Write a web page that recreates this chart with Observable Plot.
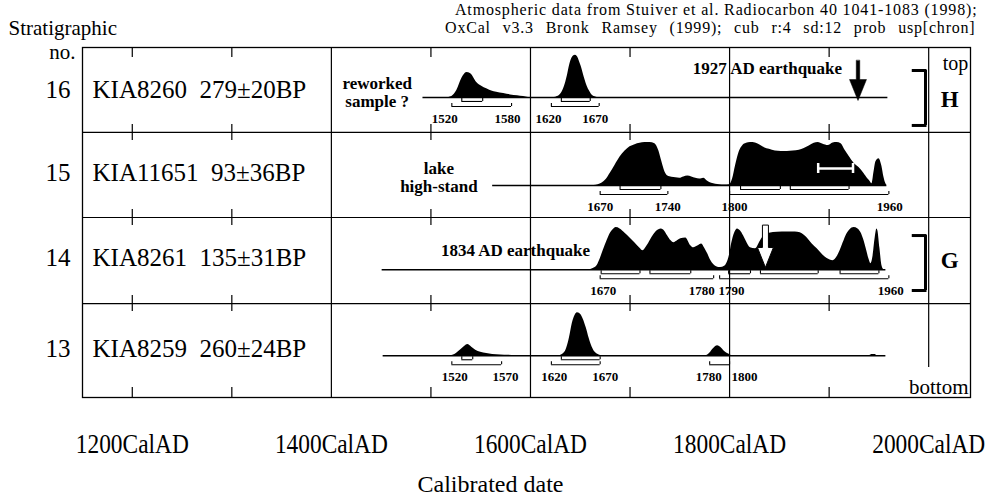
<!DOCTYPE html>
<html><head><meta charset="utf-8">
<script src="https://cdn.jsdelivr.net/npm/d3@7"></script>
<script src="https://cdn.jsdelivr.net/npm/@observablehq/plot@0.6"></script>
<style>body{margin:0;background:#fff;} svg text{font-family:"Liberation Serif","Times New Roman",serif;}</style>
</head><body><div id="chart"></div>
<script>
// ---------- data ----------
const rowNos   = ["16", "15", "14", "13"];
const labIds   = ["KIA8260", "KIA11651", "KIA8261", "KIA8259"];
const labAges  = ["279±20BP", "93±36BP", "135±31BP", "260±24BP"];
const lineStart = [1492, 1562, 1451, 1452];
const lineEnd   = [1959, 1958, 1957, 1957];

// probability densities (relative, max = 1)
const years16 = [1518,1521,1526,1531,1536,1540,1546,1551,1556,1561,1566,1573,1580,1587,1593,1598,
                 1624,1627,1631,1634,1637,1639,1642,1645,1647,1649,1651,1654,1656,1659,1661,1664,1667];
const dens16  = [0,0.02,0.16,0.44,0.58,0.55,0.35,0.26,0.2,0.15,0.12,0.09,0.06,0.04,0.02,0,
                 0,0.02,0.1,0.25,0.5,0.72,0.93,0.98,0.95,0.85,0.72,0.47,0.32,0.16,0.08,0.02,0];
const years15 = [1664,1668,1672,1676,1680,1685,1690,1695,1700,1705,1710,1715,1720,1725,1729,1732,1735,1738,1742,1746,1750,1754,1758,1762,1766,1770,1774,1778,1782,1786,1790,1795,1800,
                 1801,1803,1806,1810,1813,1817,1821,1826,1830,1835,1840,1846,1852,1858,1864,1870,1875,1880,1885,1889,1894,1899,1904,1908,1912,1916,1920,1925,1930,1935,1939,1941,1943,1945,1947,1950,1953,1955,1957,1958];
const dens15  = [0,0.02,0.06,0.14,0.28,0.47,0.66,0.8,0.9,0.95,0.98,1.0,1.0,0.97,0.8,0.55,0.32,0.22,0.19,0.18,0.17,0.2,0.22,0.2,0.17,0.15,0.17,0.1,0.05,0.03,0.02,0.01,0.02,
                 0.04,0.15,0.46,0.8,0.92,0.98,1.0,0.99,0.95,0.88,0.84,0.8,0.79,0.79,0.8,0.82,0.86,0.92,0.98,1.0,0.96,0.93,0.99,1.0,0.97,0.82,0.68,0.52,0.42,0.28,0.15,0.1,0.04,0.3,0.55,0.62,0.45,0.2,0.04,0];
const years14 = [1658,1663,1667,1670,1673,1677,1680,1683,1686,1690,1695,1700,1705,1710,1713,1717,1720,1724,1728,1731,1734,1738,1741,1744,1748,1751,1756,1761,1764,1768,1772,1775,1778,1781,1784,1788,1791,1795,1797,1800,1802,1805,1808,1811,1814,1817,1821,1826,1831,1835,1840,1848,1858,1866,1871,1875,1878,1883,1888,1893,1898,1904,1908,1911,1914,1918,1921,1925,1929,1932,1935,1937,1940,1942,1944,1946,1948,1949,1951,1953,1955];
const dens14  = [0,0.03,0.1,0.25,0.44,0.68,0.84,0.93,0.98,0.95,0.85,0.74,0.62,0.5,0.44,0.55,0.67,0.82,0.92,0.95,0.92,0.78,0.68,0.63,0.68,0.72,0.74,0.56,0.51,0.55,0.6,0.5,0.37,0.22,0.12,0.06,0.05,0.08,0.14,0.35,0.6,0.85,0.95,0.9,0.79,0.65,0.51,0.49,0.67,0.8,0.85,0.87,0.88,0.88,0.86,0.8,0.74,0.6,0.49,0.36,0.26,0.21,0.3,0.44,0.62,0.84,0.93,0.98,0.95,0.86,0.68,0.51,0.25,0.14,0.3,0.7,0.95,0.9,0.5,0.1,0];
const years13 = [1520,1524,1527,1530,1534,1537,1541,1545,1550,1556,1562,1570,1578,1585,
                 1628,1632,1636,1639,1642,1645,1647,1650,1653,1656,1659,1662,1665,1669,1673,
                 1776,1780,1784,1788,1791,1795,1799,1803,
                 1940,1943,1946,1948];
const dens13  = [0,0.03,0.08,0.14,0.22,0.26,0.2,0.13,0.08,0.05,0.03,0.02,0.01,0,
                 0,0.03,0.15,0.4,0.75,0.95,1.0,0.97,0.85,0.65,0.4,0.2,0.08,0.02,0,
                 0,0.06,0.17,0.23,0.2,0.1,0.04,0,
                 0,0.03,0.03,0];
const densYears = [years16, years15, years14, years13];
const densVals  = [dens16, dens15, dens14, dens13];

// 68.2% (upper) and 95.4% (lower) calibrated ranges
const ranges68 = [[[1531,1552],[1631,1660]],
                  [[1690,1731],[1811,1851],[1861,1920]],
                  [[1671,1710],[1720,1761],[1799,1821],[1831,1889],[1911,1950]],
                  [[1531,1542],[1631,1670]]];
const ranges95 = [[[1521,1581],[1621,1669]],
                  [[1670,1738],[1800,1960]],
                  [[1670,1784],[1790,1960]],
                  [[1521,1571],[1621,1670],[1780,1800]]];
const rangeLabelText = [["1520","1580","1620","1670"],
                        ["1670","1740","1800","1960"],
                        ["1670","1780","1790","1960"],
                        ["1520","1570","1620","1670","1780","1800"]];
const rangeLabelYear = [[1514,1577,1618,1665],
                        [1670,1738,1805,1961],
                        [1673,1772,1802,1962],
                        [1524,1575,1624,1675,1779,1815]];

const axisYears = [1200, 1400, 1600, 1800, 2000];
const gridYears = [1400, 1600, 1800];
const tickYears = [1200, 1300, 1500, 1700, 1900];

const quakeBlack = [{year: 1929, label: "1927 AD earthquake"}];
const quakeWhite = [{year: 1836, label: "1834 AD earthquake"}];
const errorBar = [{from: 1889, to: 1924}];
const phases = ["H", "G"];

const captionLines = ["Atmospheric data from Stuiver et al. Radiocarbon 40 1041-1083 (1998);",
                      "OxCal v3.3 Bronk Ramsey (1999); cub r:4 sd:12 prob usp[chron]"];

// ---------- layout (row positions in y units) ----------
const PX = 87.5;                       // pixels per y unit
const rowBounds = [4, 3.029, 2.057, 1.074, 0];
const rowBase   = [3.429, 2.423, 1.460, 0.477];
const rowTextY  = [3.52, 2.57, 1.60, 0.549];
const amp = 43 / PX;
const phaseTop = [3.737, 1.851], phaseBot = [3.109, 1.223], phaseTextY = [3.409, 1.57];

// ---------- build tables ----------
const areaRows = [];
rowNos.forEach((no, i) => densYears[i].forEach((yr, j) =>
  areaRows.push({row: no, year: yr, base: rowBase[i], top: rowBase[i] + densVals[i][j] * amp})));
const rows = rowNos.map((no, i) => ({no, text: labIds[i] + "\u00a0\u00a0" + labAges[i], y: rowTextY[i],
  base: rowBase[i], start: lineStart[i], end: lineEnd[i]}));
const brackets = [], bracketEnds = [];
rowNos.forEach((no, i) => {
  [[ranges68[i], 4], [ranges95[i], 9]].forEach(([rs, off]) => rs.forEach(([a, b]) => {
    const y = rowBase[i] - off / PX;
    brackets.push({x1: a, x2: b, y});
    bracketEnds.push({x: a, y1: y, y2: y + 3 / PX}, {x: b, y1: y, y2: y + 3 / PX});
  }));
});
const rangeLabels = [];
rowNos.forEach((no, i) => rangeLabelText[i].forEach((t, j) =>
  rangeLabels.push({text: t, x: rangeLabelYear[i][j], y: rowBase[i] - 21.5 / PX})));
const tickSegs = [];
rowBounds.forEach((b, k) => tickYears.forEach(x => {
  if (k === 0) tickSegs.push({x, y1: b - 10 / PX, y2: b});
  else if (k === rowBounds.length - 1) tickSegs.push({x, y1: b, y2: b + 10 / PX});
  else tickSegs.push({x, y1: b - 8 / PX, y2: b + 8 / PX});
}));
const phaseRows = phases.map((p, i) => ({p, top: phaseTop[i], bot: phaseBot[i], ty: phaseTextY[i]}));

// filled arrow shape for Plot.vector
const arrowShape = (shaftW, headW, headL) => ({
  draw(ctx, l) {
    const s = shaftW / 2, h = headW / 2, b = -(l - headL);
    ctx.moveTo(-s, 0); ctx.lineTo(-s, b); ctx.lineTo(-h, b); ctx.lineTo(0, -l);
    ctx.lineTo(h, b); ctx.lineTo(s, b); ctx.lineTo(s, 0); ctx.closePath();
  }
});

const serif = "Liberation Serif";
const T = (data, opts) => Plot.text(data, {fontFamily: serif, lineAnchor: "middle", ...opts});
const chart = Plot.plot({
  width: 998, height: 496,
  marginLeft: 82, marginRight: 28, marginTop: 47, marginBottom: 99,
  x: {domain: [1150, 2042], axis: null},
  y: {domain: [0, 4], axis: null},
  style: {background: "white", color: "black", overflow: "visible"},
  marks: [
    Plot.frame({stroke: "black", strokeWidth: 1.3}),
    Plot.ruleY(rowBounds.slice(1, 4), {stroke: "black", strokeWidth: 1.2}),
    Plot.ruleX(gridYears, {stroke: "black", strokeWidth: 1.2}),
    Plot.ruleX([2000], {y1: 30 / PX, y2: 4, stroke: "black", strokeWidth: 1.2}),
    Plot.ruleX(tickSegs, {x: "x", y1: "y1", y2: "y2", stroke: "black", strokeWidth: 1.2}),
    // baselines
    Plot.ruleY(rows, {x1: "start", x2: "end", y: "base", stroke: "black", strokeWidth: 1.4}),
    // probability distributions
    Plot.areaY(areaRows, {x: "year", y1: "base", y2: "top", z: "row", fill: "black", curve: "monotone-x"}),
    // calibrated ranges
    Plot.ruleY(brackets, {x1: "x1", x2: "x2", y: "y", stroke: "black", strokeWidth: 1.1}),
    Plot.ruleX(bracketEnds, {x: "x", y1: "y1", y2: "y2", stroke: "black", strokeWidth: 1.1}),
    T(rangeLabels, {x: "x", y: "y", text: "text", fontSize: 13, fontWeight: "bold"}),
    // white error bar
    Plot.ruleY(errorBar, {x1: "from", x2: "to", y: 2.617, stroke: "white", strokeWidth: 2.5}),
    Plot.ruleX(errorBar, {x: "from", y1: 2.617 - 5 / PX, y2: 2.617 + 5 / PX, stroke: "white", strokeWidth: 2.5}),
    Plot.ruleX(errorBar, {x: "to", y1: 2.617 - 5 / PX, y2: 2.617 + 5 / PX, stroke: "white", strokeWidth: 2.5}),
    // arrows
    Plot.vector(quakeBlack, {x: "year", y: 3.851, length: 40, rotate: 180, anchor: "start",
      shape: arrowShape(3.5, 17, 21), fill: "black", stroke: "black", strokeWidth: 0.5}),
    Plot.vector(quakeWhite, {x: "year", y: 1.966, length: 42, rotate: 180, anchor: "start",
      shape: arrowShape(6, 16, 20), fill: "white", stroke: "black", strokeWidth: 1}),
    // annotations
    T(quakeBlack, {x: 1913, y: 3.761, text: "label", textAnchor: "end", fontSize: 17, fontWeight: "bold"}),
    T(quakeWhite, {x: 1510, y: 1.685, text: "label", textAnchor: "start", fontSize: 17, fontWeight: "bold"}),
    T(["reworked\nsample ?"], {x: 1446, y: 3.49, fontSize: 17, fontWeight: "bold", lineHeight: 1.05}),
    T(["lake\nhigh-stand"], {x: 1508, y: 2.514, fontSize: 17, fontWeight: "bold", lineHeight: 1.05}),
    // phase brackets
    Plot.ruleX(phaseRows, {x: 1996.8, y1: "bot", y2: "top", stroke: "black", strokeWidth: 3}),
    Plot.ruleY(phaseRows, {y: "top", x1: 1983.5, x2: 1998.3, stroke: "black", strokeWidth: 3}),
    Plot.ruleY(phaseRows, {y: "bot", x1: 1983.5, x2: 1998.3, stroke: "black", strokeWidth: 3}),
    T(phaseRows, {x: 2021, y: "ty", text: "p", fontSize: 23, fontWeight: "bold"}),
    T(["top"], {frameAnchor: "top-right", dx: -15, dy: 16, fontSize: 20, textAnchor: "middle"}),
    T(["bottom"], {frameAnchor: "bottom-right", dx: -2, dy: -10, fontSize: 21, textAnchor: "end"}),
    // row labels
    T(rows, {y: "y", frameAnchor: "left", dx: 10, text: "text", textAnchor: "start", fontSize: 25}),
    T(rows, {y: "y", frameAnchor: "left", dx: -12, text: "no", textAnchor: "end", fontSize: 25}),
    T(["Stratigraphic"], {frameAnchor: "top-left", dx: -74, dy: -19, textAnchor: "start", fontSize: 21}),
    T(["no."], {frameAnchor: "top-left", dx: -7, dy: 4.3, textAnchor: "end", fontSize: 21}),
    // caption
    T([captionLines[0]], {frameAnchor: "top-right", dx: 7, dy: -38, textAnchor: "end", fontSize: 16}),
    T([captionLines[1]], {frameAnchor: "top-right", dx: 5, dy: -20, textAnchor: "end", fontSize: 16}),
    // x axis labels
    T(axisYears, {x: d => d, frameAnchor: "bottom", dy: 47, text: d => d + "CalAD", fontSize: 27}),
    T(["Calibrated date"], {frameAnchor: "bottom", dx: -36, dy: 87, fontSize: 24})
  ]
});
// typographic touches: condensed axis labels, wider caption spacing
d3.select(chart).selectAll("text").each(function () {
  const t = this.textContent;
  if (/CalAD$/.test(t)) d3.select(this).attr("textLength", 113).attr("lengthAdjust", "spacingAndGlyphs");
  if (t === captionLines[0]) d3.select(this).style("letter-spacing", "0.85px");
  if (t === captionLines[1]) d3.select(this).style("letter-spacing", "0.8px").style("word-spacing", "7px");
});
document.getElementById("chart").append(chart);
</script></body></html>
